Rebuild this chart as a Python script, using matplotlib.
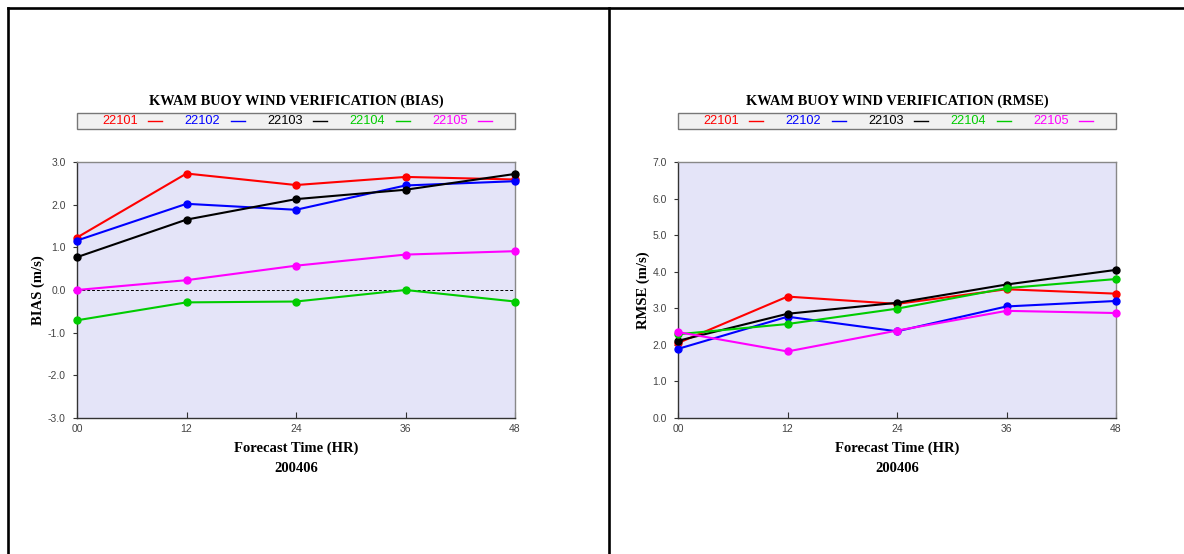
import matplotlib
matplotlib.use("Agg")
import matplotlib.pyplot as plt
from matplotlib.lines import Line2D
from matplotlib.patches import Rectangle

# Forecast lead times and station series
lead_hours = [0, 12, 24, 36, 48]
tick_labels = ["00", "12", "24", "36", "48"]
stations = ["22101", "22102", "22103", "22104", "22105"]
colors = ["#ff0000", "#0000ff", "#000000", "#00cc00", "#ff00ff"]

bias_22101 = [1.23, 2.73, 2.46, 2.65, 2.59]
bias_22102 = [1.16, 2.02, 1.88, 2.45, 2.55]
bias_22103 = [0.77, 1.65, 2.13, 2.35, 2.72]
bias_22104 = [-0.71, -0.29, -0.27, 0.00, -0.27]
bias_22105 = [0.00, 0.23, 0.57, 0.83, 0.91]

rmse_22101 = [2.05, 3.32, 3.12, 3.52, 3.40]
rmse_22102 = [1.89, 2.77, 2.37, 3.05, 3.20]
rmse_22103 = [2.11, 2.85, 3.15, 3.65, 4.05]
rmse_22104 = [2.29, 2.57, 2.99, 3.55, 3.80]
rmse_22105 = [2.35, 1.82, 2.39, 2.93, 2.87]

bias_series = [bias_22101, bias_22102, bias_22103, bias_22104, bias_22105]
rmse_series = [rmse_22101, rmse_22102, rmse_22103, rmse_22104, rmse_22105]

W, H = 1184, 554
fig = plt.figure(figsize=(W / 100, H / 100), dpi=100)
fig.patch.set_facecolor("white")

SERIF = "Liberation Serif"
SANS = "Liberation Sans"


def px_rect(x0, y0, x1, y1):
    """Convert a pixel box (top-left origin) to figure fractions."""
    return [x0 / W, 1 - y1 / H, (x1 - x0) / W, (y1 - y0) / H]


def draw_panel(x0, x1, series, ylim, yticks, ylabel, title, zero_line):
    ax = fig.add_axes(px_rect(x0, 162, x1, 418))
    ax.set_facecolor("#e4e4f8")
    for vals, c in zip(series, colors):
        ax.plot(lead_hours, vals, color=c, lw=1.5, marker="o", ms=5,
                zorder=3, clip_on=False)
    if zero_line:
        ax.axhline(0, color="black", lw=0.7, ls=(0, (3, 2)), zorder=2)
    ax.set_xlim(0, 48)
    ax.set_ylim(*ylim)
    ax.set_xticks(lead_hours)
    ax.set_xticklabels(tick_labels)
    ax.set_yticks(yticks)
    ax.set_yticklabels([f"{v:.1f}" for v in yticks])
    for s in ax.spines.values():
        s.set_color("#333333")
        s.set_linewidth(1.0)
    for s in ("top", "right"):
        ax.spines[s].set_color("#888888")
    ax.tick_params(axis="x", direction="in", length=4, width=0.8,
                   colors="#333333", labelsize=7.5, pad=4)
    ax.tick_params(axis="y", direction="out", length=3, width=0.8,
                   colors="#333333", labelsize=7.5, pad=5)
    for lab in ax.get_xticklabels() + ax.get_yticklabels():
        lab.set_fontfamily(SANS)
        lab.set_color("#444444")
    ax.set_xlabel("Forecast Time (HR)", fontfamily=SERIF, fontweight="bold",
                  fontsize=10.5, labelpad=6)
    ax.set_ylabel(ylabel, fontfamily=SERIF, fontweight="bold", fontsize=10.5,
                  labelpad=2)
    cx = (x0 + x1) / 2
    fig.text(cx / W, 1 - 469 / H, "200406", ha="center", va="center",
             fontfamily=SERIF, fontweight="bold", fontsize=10.5)
    fig.text(cx / W, 1 - 101 / H, title, ha="center", va="center",
             fontfamily=SERIF, fontweight="bold", fontsize=10.4)

    # Station key box above the plot
    box = Rectangle((x0 / W, 1 - 129 / H), (x1 - x0) / W, 16 / H,
                    transform=fig.transFigure, facecolor="#f1f1f1",
                    edgecolor="#777777", lw=1.0)
    fig.add_artist(box)
    for i, (name, c) in enumerate(zip(stations, colors)):
        tx = x0 + 25 + i * 82.5
        fig.text(tx / W, 1 - 121.5 / H, name, ha="left", va="center",
                 color=c, fontfamily=SANS, fontsize=9.2)
        lx = tx + 46
        fig.add_artist(Line2D([lx / W, (lx + 14) / W],
                              [1 - 121 / H, 1 - 121 / H],
                              transform=fig.transFigure, color=c, lw=1.0))
    return ax


draw_panel(77, 515, bias_series, (-3, 3), [-3, -2, -1, 0, 1, 2, 3],
           "BIAS (m/s)", "KWAM BUOY WIND VERIFICATION (BIAS)", True)
draw_panel(678, 1116, rmse_series, (0, 7), [0, 1, 2, 3, 4, 5, 6, 7],
           "RMSE (m/s)", "KWAM BUOY WIND VERIFICATION (RMSE)", False)

# Page frame: top rule, left rule and centre divider
for xs, ys in (([7.5, W], [7.5, 7.5]), ([7.5, 7.5], [7.5, H]),
               ([608.5, 608.5], [7.5, H])):
    fig.add_artist(Line2D([x / W for x in xs], [1 - y / H for y in ys],
                          transform=fig.transFigure, color="black", lw=1.9))

fig.savefig("out.png", dpi=100, facecolor="white")
